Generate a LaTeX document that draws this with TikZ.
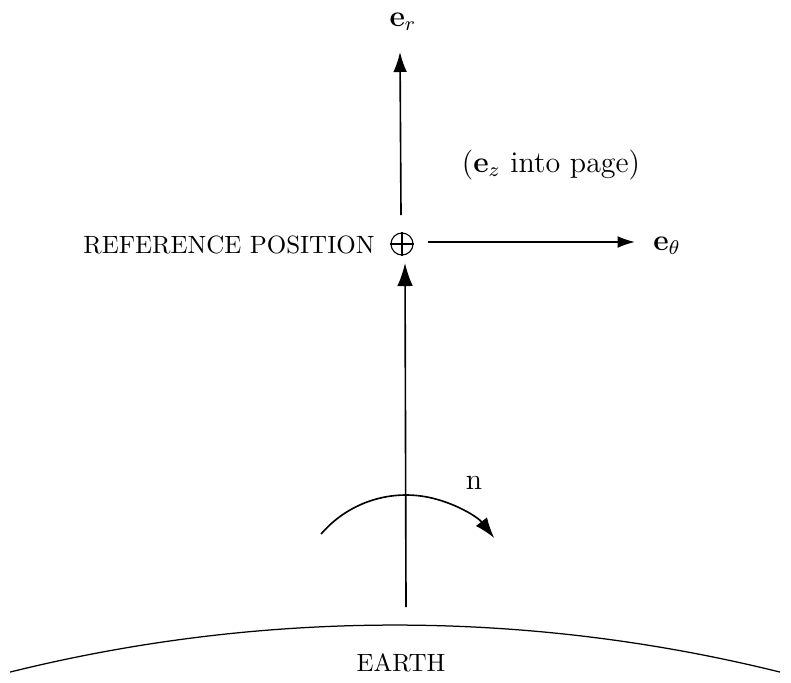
\documentclass[tikz,border=0pt]{standalone}
\usetikzlibrary{arrows.meta}
\begin{document}
\begin{tikzpicture}[x=0.4pt,y=-0.4pt,
  vec/.style={line width=0.65pt,-{Latex[length=#1,width=0.68*#1]}},
  vec/.default=7.5pt,
  thin line/.style={line width=0.5pt},
  lbl/.style={inner sep=0pt},
  ring/.style={circle,draw,line width=0.45pt,minimum size=8.8pt,inner sep=0pt}]
\useasboundingbox (0,0) rectangle (791,682);
% nodes
\node[ring] (ref) at (402,244) {};
\draw[line width=0.45pt] (ref.north) -- (ref.south) (ref.west) -- (ref.east);
\node[lbl,anchor=east] (refl) at (375,245) {REFERENCE POSITION};
\node[lbl,font=\large] (er) at (403,22) {$\mathbf{e}_r$};
\node[lbl,font=\large] (eth) at (667,246) {$\mathbf{e}_\theta$};
\node[lbl,font=\large] (ez) at (551,165) {($\mathbf{e}_z$\ into page)};
\node[lbl,font=\large] (n) at (474,483) {n};
\node[lbl] (earth) at (401,663) {EARTH};
% coordinates
\coordinate (erS) at (401,215);
\coordinate (erE) at (400,52);
\coordinate (ethS) at (428,242);
\coordinate (ethE) at (635,242);
\coordinate (base) at (406,607);
\coordinate (baseE) at (405,263);
% arrows
\draw[vec=8pt] (erS) -- (erE);
\draw[vec=7pt] (ethS) -- (ethE);
\draw[vec=9.2pt] (base) -- (baseE);
% rotation arrow about base
\draw[vec=8.3pt] ([shift={(-139.3:112)}]base) arc[start angle=-139.3,end angle=-38,radius=112];
% earth surface
\coordinate (ec) at (395,2225);
\draw[thin line] ([shift={(-103.92:1600)}]ec) arc[start angle=-103.92,end angle=-76.08,radius=1600];
\end{tikzpicture}
\end{document}
